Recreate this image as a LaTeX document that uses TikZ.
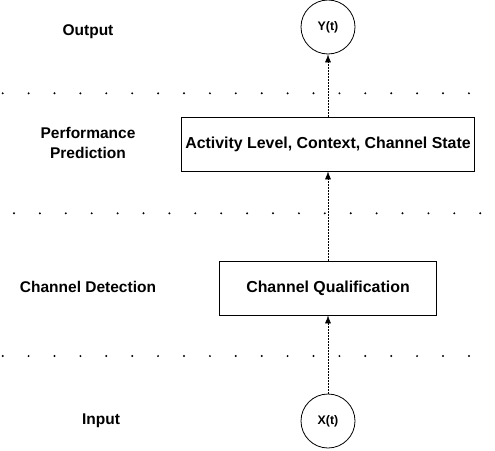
\documentclass[tikz,border=0pt]{standalone}
\usepackage{fontspec}
\setmainfont{Liberation Sans}
\usetikzlibrary{arrows.meta}
\begin{document}
\begin{tikzpicture}[x=1pt,y=-1pt,
  box/.style={draw,line width=0.8pt,minimum height=54pt,inner sep=0pt,
    font=\fontsize{15.9}{19}\selectfont\bfseries},
  sig/.style={draw,circle,line width=0.8pt,minimum size=54pt,inner sep=0pt,
    font=\fontsize{12.4}{14}\selectfont\bfseries},
  lbl/.style={align=center,font=\fontsize{15.5}{19.5}\selectfont\bfseries},
  flow/.style={line width=0.6pt,dash pattern=on 1.5pt off 1.5pt,
    -{Latex[length=8pt,width=6pt]}}]
  \useasboundingbox (0,0) rectangle (495,450);
  % dotted separators
  \foreach \k in {0,...,18} {
    \fill (2.7+25.9*\k,93.3) circle (1.1);
    \fill (14+25.9*\k,213.3) circle (1.1);
    \fill (2.7+25.9*\k,356) circle (1.1);
  }
  % layer names
  \node[lbl] (out) at (88,32) {Output};
  \node[lbl] (perf) at (88,143) {Performance\\Prediction};
  \node[lbl] (det) at (88,287) {Channel Detection};
  \node[lbl] (in) at (101,421) {Input};
  % blocks
  \node[sig] (y) at (328,27) {Y(t)};
  \node[box,minimum width=293pt] (act) at (328,144) {Activity Level, Context, Channel State};
  \node[box,minimum width=217pt] (qual) at (328,288) {Channel Qualification};
  \node[sig] (x) at (328,421) {X(t)};
  \draw[flow] (x) -- (qual);
  \draw[flow] (qual) -- (act);
  \draw[flow] (act) -- (y);
\end{tikzpicture}
\end{document}
